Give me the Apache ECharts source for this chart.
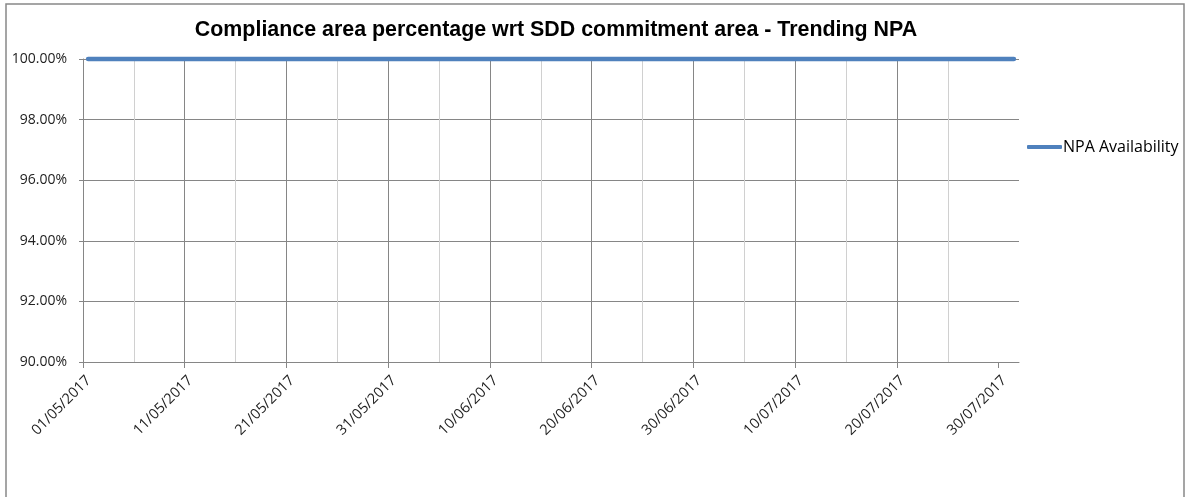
<!DOCTYPE html>
<html><head><meta charset="utf-8">
<script src="https://cdn.jsdelivr.net/npm/echarts@6/dist/echarts.min.js"></script>
<style>html,body{margin:0;padding:0;background:#fff}#c{width:1187px;height:497px}</style>
</head><body><div id="c"></div>
<script>
// Data
const startDate = '2017-05-01';
const axisEndDay = 92; // 01/08/2017
const labelDays = [0, 10, 20, 30, 40, 50, 60, 70, 80, 90];
const npaAvailability = [
100,100,100,100,100,100,100,100,100,100,100,100,100,100,100,100,100,100,100,100,100,100,100,100,100,100,100,100,100,100,100,
100,100,100,100,100,100,100,100,100,100,100,100,100,100,100,100,100,100,100,100,100,100,100,100,100,100,100,100,100,100,
100,100,100,100,100,100,100,100,100,100,100,100,100,100,100,100,100,100,100,100,100,100,100,100,100,100,100,100,100,100,100
];
const yTicks = [90, 92, 94, 96, 98, 100];

const base = Date.UTC(2017, 4, 1);
function dayLabel(d) {
  const t = new Date(base + d * 86400000);
  const dd = String(t.getUTCDate()).padStart(2, '0');
  const mm = String(t.getUTCMonth() + 1).padStart(2, '0');
  return dd + '/' + mm + '/' + t.getUTCFullYear();
}
// points sit in the middle of each day (Excel date axis)
const seriesData = npaAvailability.map((v, i) => [i + 0.5, v]);

const chart = echarts.init(document.getElementById('c'));
chart.setOption({
  animation: false,
  backgroundColor: '#fff',
  title: {
    text: 'Compliance area percentage wrt SDD commitment area - Trending NPA',
    left: 551, top: 15, textAlign: 'center',
    textStyle: { fontFamily: 'Liberation Sans', fontWeight: 'bold', fontSize: 21.4, color: '#000' }
  },
  graphic: [{
    type: 'rect', shape: { x: 6, y: 4, width: 1178, height: 520 },
    style: { fill: 'none', stroke: '#888', lineWidth: 1.5 }, silent: true, z: -1
  }],
  legend: {
    left: 1022, top: 134, itemWidth: 35, itemHeight: 4, itemGap: 4,
    icon: 'roundRect',
    textStyle: { fontFamily: 'Open Sans', fontSize: 16, color: '#000', padding: [0, 0, 0, -4] },
    data: ['NPA Availability']
  },
  grid: { left: 83, top: 59, right: 168, bottom: 135, containLabel: false },
  xAxis: {
    type: 'value', min: 0, max: axisEndDay, interval: 10,
    axisLine: { show: true, lineStyle: { color: '#868686', width: 1 } },
    axisTick: { show: true, length: 6, customValues: labelDays, lineStyle: { color: '#868686' } },
    axisLabel: {
      rotate: 45, margin: 22, fontFamily: 'Open Sans', fontSize: 14.5, color: '#222',
      padding: [0, -8, 0, 0],
      customValues: labelDays,
      formatter: v => dayLabel(v)
    },
    splitLine: { show: true, showMaxLine: false, lineStyle: { color: '#868686', width: 1 } },
    minorTick: { show: false, splitNumber: 2 },
    minorSplitLine: { show: true, lineStyle: { color: '#d0d0d0', width: 1 } }
  },
  yAxis: {
    type: 'value', min: yTicks[0], max: yTicks[yTicks.length - 1], interval: 2,
    axisLine: { show: true, lineStyle: { color: '#868686', width: 1 } },
    axisTick: { show: true, length: 4, lineStyle: { color: '#868686' } },
    axisLabel: { margin: 16, fontFamily: 'Open Sans', fontSize: 14, color: '#222',
      formatter: v => v.toFixed(2) + '%' },
    splitLine: { show: true, lineStyle: { color: '#868686', width: 1 } }
  },
  series: [{
    name: 'NPA Availability', type: 'line', data: seriesData,
    symbol: 'none', clip: false,
    lineStyle: { color: '#4f81bd', width: 4.5, cap: 'round' },
    itemStyle: { color: '#4f81bd' }
  }]
});
</script></body></html>
